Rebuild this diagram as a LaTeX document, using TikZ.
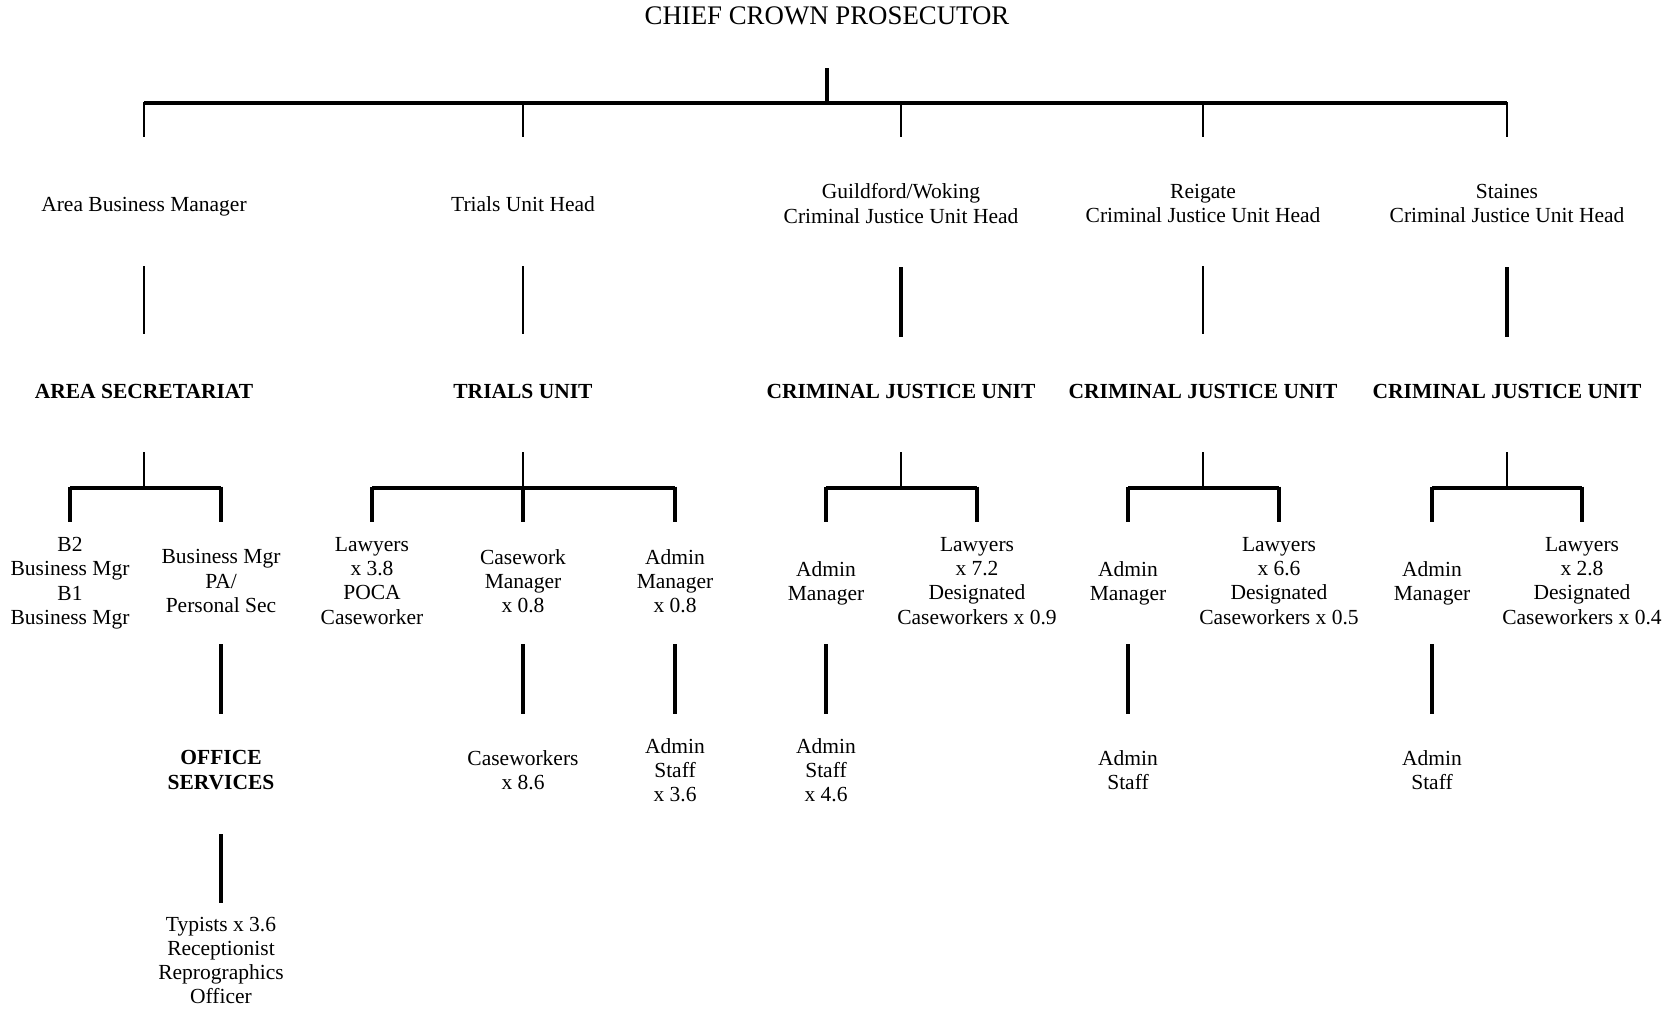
\documentclass[tikz,border=0pt]{standalone}
\usepackage{fontspec}
\setmainfont{Liberation Serif}
\begin{document}
\begin{tikzpicture}[x=0.6pt,y=-0.6pt,
  lbl/.style={align=center,font=\fontsize{12.9}{14.45}\selectfont,inner sep=0pt,
    execute at begin node=\strut, execute at end node=\strut},
  unitlbl/.style={lbl,font=\fontsize{12.9}{14.45}\selectfont\bfseries},
  titlelbl/.style={lbl,font=\fontsize{16.1}{18}\selectfont},
  thinln/.style={line width=1.5pt},
  medln/.style={line width=2.0pt},
  thickln/.style={line width=2.4pt}]
\useasboundingbox (0,0) rectangle (1664,1008);

% title and heads
\node[titlelbl] (ccp) at (827,18) {CHIEF CROWN PROSECUTOR};
\node[lbl] (abm) at (144,206.5) {Area Business Manager};
\node[lbl] (tuh) at (523,206.5) {Trials Unit Head};
\node[lbl] (gw) at (901,207) {Guildford/Woking\\Criminal Justice Unit Head};
\node[lbl] (rg) at (1203,207) {Reigate\\Criminal Justice Unit Head};
\node[lbl] (st) at (1507,207) {Staines\\Criminal Justice Unit Head};

% units
\node[unitlbl] (as) at (144,394) {AREA SECRETARIAT};
\node[unitlbl] (tu) at (523,394) {TRIALS UNIT};
\node[unitlbl] (gcju) at (901,394) {CRIMINAL JUSTICE UNIT};
\node[unitlbl] (rcju) at (1203,394) {CRIMINAL JUSTICE UNIT};
\node[unitlbl] (scju) at (1507,394) {CRIMINAL JUSTICE UNIT};

% level 3
\node[lbl] (as1) at (70,584.5) {B2\\Business Mgr\\B1\\Business Mgr};
\node[lbl] (as2) at (221,584.5) {Business Mgr\\PA/\\Personal Sec};
\node[lbl] (t1) at (372,584.5) {Lawyers\\x 3.8\\POCA\\Caseworker};
\node[lbl] (t2) at (523,584.5) {Casework\\Manager\\x 0.8};
\node[lbl] (t3) at (675,584.5) {Admin\\Manager\\x 0.8};
\node[lbl] (g1) at (826,584.5) {Admin\\Manager};
\node[lbl] (g2) at (977,584.5) {Lawyers\\x 7.2\\Designated\\Caseworkers x 0.9};
\node[lbl] (r1) at (1128,584.5) {Admin\\Manager};
\node[lbl] (r2) at (1279,584.5) {Lawyers\\x 6.6\\Designated\\Caseworkers x 0.5};
\node[lbl] (s1) at (1432,584.5) {Admin\\Manager};
\node[lbl] (s2) at (1582,584.5) {Lawyers\\x 2.8\\Designated\\Caseworkers x 0.4};

% level 4
\node[unitlbl] (os) at (221,773.5) {OFFICE\\SERVICES};
\node[lbl] (cw) at (523,773.5) {Caseworkers\\x 8.6};
\node[lbl] (tas) at (675,773.5) {Admin\\Staff\\x 3.6};
\node[lbl] (gas) at (826,773.5) {Admin\\Staff\\x 4.6};
\node[lbl] (ras) at (1128,773.5) {Admin\\Staff};
\node[lbl] (sas) at (1432,773.5) {Admin\\Staff};

% level 5
\node[lbl] (typ) at (221,964) {Typists x 3.6\\Receptionist\\Reprographics\\Officer};

% top connectors
\draw[line width=2.2pt] (ccp |- 0,68) -- (ccp |- 0,102);
\draw[thickln] (abm |- 0,103) -- (st |- 0,103);
\foreach \n in {abm,tuh,gw,rg,st}{
  \draw[thinln] (\n |- 0,102) -- (\n |- 0,137);
}
% head to unit
\draw[thinln] (abm |- 0,266) -- (as |- 0,334);
\draw[thinln] (tuh |- 0,266) -- (tu |- 0,334);
\draw[medln] (gw |- 0,267) -- (gcju |- 0,337);
\draw[thinln] (rg |- 0,266) -- (rcju |- 0,334);
\draw[medln] (st |- 0,267) -- (scju |- 0,337);

% unit to level 3 (bars)
\foreach \u/\a/\b in {as/as1/as2, gcju/g1/g2, rcju/r1/r2, scju/s1/s2}{
  \draw[thinln] (\u |- 0,452) -- (\u |- 0,488);
  \draw[thickln] (\a |- 0,488) -- (\b |- 0,488);
  \draw[medln] (\a |- 0,486.5) -- (\a |- 0,522);
  \draw[medln] (\b |- 0,486.5) -- (\b |- 0,522);
}
\draw[thinln] (tu |- 0,452) -- (tu |- 0,488);
\draw[thickln] (t1 |- 0,488) -- (t3 |- 0,488);
\draw[medln] (t1 |- 0,486.5) -- (t1 |- 0,522);
\draw[medln] (t2 |- 0,486.5) -- (t2 |- 0,522);
\draw[medln] (t3 |- 0,486.5) -- (t3 |- 0,522);

% level 3 to level 4
\foreach \a/\b in {as2/os, t2/cw, t3/tas, g1/gas, r1/ras, s1/sas}{
  \draw[thickln] (\a |- 0,644) -- (\b |- 0,714);
}
% level 4 to 5
\draw[thickln] (os |- 0,834) -- (typ |- 0,903);
\end{tikzpicture}
\end{document}
